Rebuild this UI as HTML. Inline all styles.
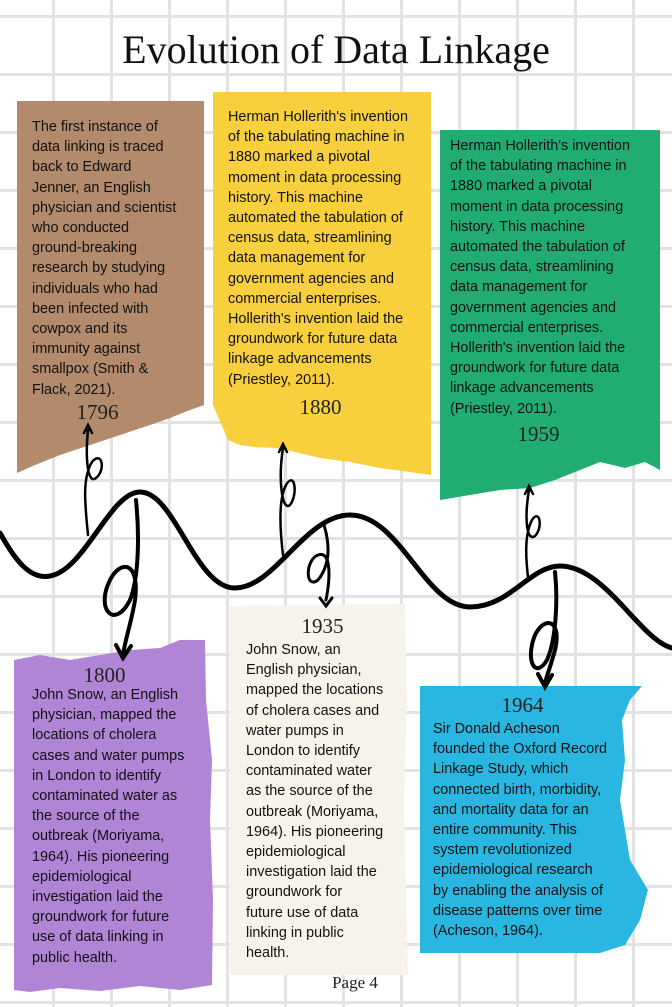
<!DOCTYPE html>
<html><head><meta charset="utf-8"><style>
*{margin:0;padding:0;box-sizing:border-box}
body{width:672px;height:1007px;overflow:hidden;position:relative;background:#fff;
background-image:linear-gradient(#e2e2e2 3px,transparent 3px),linear-gradient(90deg,#e2e2e2 3px,transparent 3px);
background-size:58px 58px;background-position:0 15px,52px 0;font-family:"Liberation Sans",sans-serif}
.title{position:absolute;top:26px;left:0;width:672px;text-align:center;font-family:"Liberation Serif",serif;font-size:40px;color:#111}
.txt{position:absolute;font-size:15.2px;line-height:20.2px;color:#111;letter-spacing:0px;white-space:nowrap;transform:scaleX(0.95);transform-origin:0 0}
.yr{position:absolute;font-family:"Liberation Serif",serif;font-size:21px;color:#222;text-align:center}
.page{position:absolute;top:973px;left:19px;width:672px;text-align:center;font-family:"Liberation Serif",serif;font-size:17px;color:#222}
</style></head><body>
<div class="title">Evolution of Data Linkage</div>

<svg width="672" height="1007" style="position:absolute;left:0;top:0">
<path d="M17,101 L204,101 L204,405 L190,410 L170,418 L150,425 L120,435 L90,445 L60,455 L35,465 L17,473 Z" fill="#b48a6c"/>
<path d="M213,92 L431,92 L431,475 L410,472 L380,468 L350,462 L320,458 L295,452 L275,448 L255,447 L240,445 L228,440 L213,405 Z" fill="#f8cf3c"/>
<path d="M440,130 L660,130 L660,470 L645,462 L625,468 L600,462 L580,470 L555,480 L530,488 L500,490 L470,495 L440,500 Z" fill="#21ad72"/>
<path d="M14,660 L40,655 L70,660 L100,655 L130,650 L160,648 L180,640 L205,640 L206,700 L212,760 L210,820 L213,900 L212,985 L180,990 L140,986 L100,991 L60,988 L30,992 L14,990 Z" fill="#b185d6"/>
<path d="M230,606 L405,604 L407,700 L404,800 L408,975 L230,975 Z" fill="#f8f3ea"/>
<path d="M420,686 L642,686 L630,700 L622,720 L625,760 L620,800 L630,860 L648,890 L640,920 L625,945 L600,953 L420,953 Z" fill="#29b6e0"/>
</svg>

<svg width="672" height="1007" style="position:absolute;left:0;top:0" fill="none" stroke="#000" stroke-linecap="round">
<path stroke-width="5" d="M0,533 C15,560 30,580 50,576 C85,570 110,492 140,492 C175,492 195,588 235,588 C275,588 305,515 350,515 C400,515 425,607 470,607 C510,607 530,566 560,566 C605,566 640,640 672,648"/>
<path stroke-width="2.5" d="M88,535 C85,505 82,478 92,462 C102,450 106,470 96,478 C88,485 85,460 88,430"/>
<path stroke-width="2.5" d="M84,433 L88,425 L92,433"/>
<path stroke-width="2.5" d="M283,555 C280,530 278,500 286,485 C295,470 298,495 290,505 C282,512 278,480 283,448"/>
<path stroke-width="2.5" d="M279,452 L283,444 L287,452"/>
<path stroke-width="2.5" d="M528,577 C526,560 524,535 532,520 C540,508 543,528 535,536 C527,542 524,520 529,490"/>
<path stroke-width="2.5" d="M525,494 L529,486 L533,494"/>
<path stroke-width="4" d="M136,500 C140,540 138,580 130,600 C115,630 95,610 110,580 C120,560 140,560 135,600 C132,620 125,640 123,655"/>
<path stroke-width="4" d="M116,645 L123,658 L131,646"/>
<path stroke-width="3" d="M324,525 C330,545 330,565 318,580 C305,590 305,560 318,555 C332,550 330,580 326,600"/>
<path stroke-width="3" d="M320,598 L326,606 L332,598"/>
<path stroke-width="4" d="M555,572 C558,600 556,640 547,660 C535,680 525,660 535,635 C545,615 562,620 555,650 C551,665 547,675 545,683"/>
<path stroke-width="4" d="M538,674 L545,687 L552,675"/>
</svg>

<div class="txt" style="left:32px;top:117px">The first instance of<br>data linking is traced<br>back to Edward<br>Jenner, an English<br>physician and scientist<br>who conducted<br>ground-breaking<br>research by studying<br>individuals who had<br>been infected with<br>cowpox and its<br>immunity against<br>smallpox (Smith &amp;<br>Flack, 2021).</div>
<div class="yr" style="left:40px;top:400px;width:115px">1796</div>

<div class="txt" style="left:228px;top:107px">Herman Hollerith's invention<br>of the tabulating machine in<br>1880 marked a pivotal<br>moment in data processing<br>history. This machine<br>automated the tabulation of<br>census data, streamlining<br>data management for<br>government agencies and<br>commercial enterprises.<br>Hollerith's invention laid the<br>groundwork for future data<br>linkage advancements<br>(Priestley, 2011).</div>
<div class="yr" style="left:263px;top:395px;width:115px">1880</div>

<div class="txt" style="left:450px;top:136px">Herman Hollerith's invention<br>of the tabulating machine in<br>1880 marked a pivotal<br>moment in data processing<br>history. This machine<br>automated the tabulation of<br>census data, streamlining<br>data management for<br>government agencies and<br>commercial enterprises.<br>Hollerith's invention laid the<br>groundwork for future data<br>linkage advancements<br>(Priestley, 2011).</div>
<div class="yr" style="left:481px;top:422px;width:115px">1959</div>

<div class="yr" style="left:47px;top:663px;width:115px">1800</div>
<div class="txt" style="left:32px;top:685px">John Snow, an English<br>physician, mapped the<br>locations of cholera<br>cases and water pumps<br>in London to identify<br>contaminated water as<br>the source of the<br>outbreak (Moriyama,<br>1964). His pioneering<br>epidemiological<br>investigation laid the<br>groundwork for future<br>use of data linking in<br>public health.</div>

<div class="yr" style="left:265px;top:614px;width:115px">1935</div>
<div class="txt" style="left:246px;top:640px">John Snow, an<br>English physician,<br>mapped the locations<br>of cholera cases and<br>water pumps in<br>London to identify<br>contaminated water<br>as the source of the<br>outbreak (Moriyama,<br>1964). His pioneering<br>epidemiological<br>investigation laid the<br>groundwork for<br>future use of data<br>linking in public<br>health.</div>

<div class="yr" style="left:465px;top:693px;width:115px">1964</div>
<div class="txt" style="left:433px;top:719px">Sir Donald Acheson<br>founded the Oxford Record<br>Linkage Study, which<br>connected birth, morbidity,<br>and mortality data for an<br>entire community. This<br>system revolutionized<br>epidemiological research<br>by enabling the analysis of<br>disease patterns over time<br>(Acheson, 1964).</div>

<div class="page">Page 4</div>
</body></html>
